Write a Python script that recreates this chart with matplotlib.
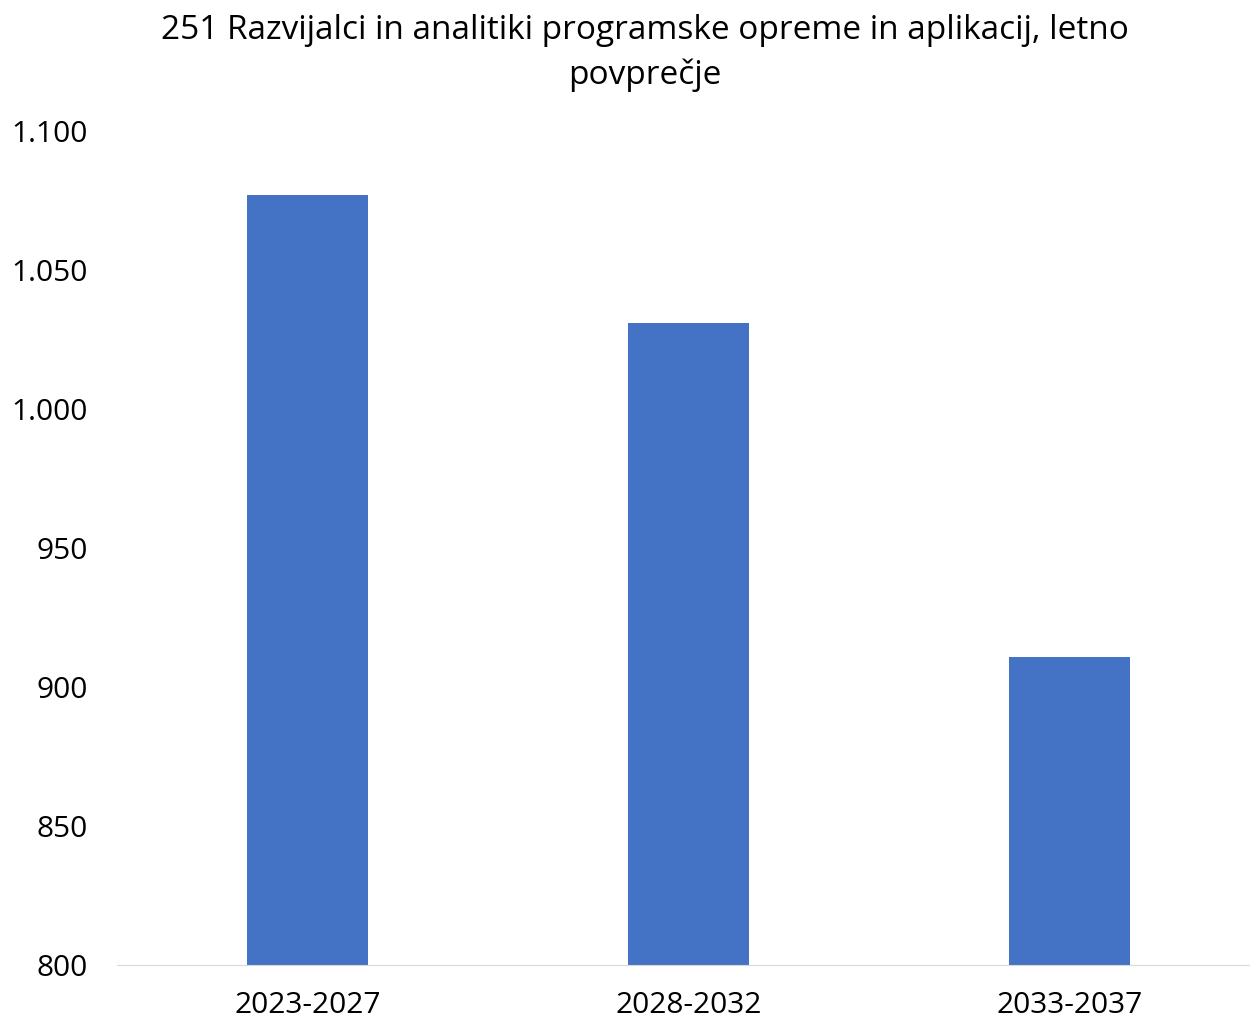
import matplotlib.pyplot as plt
import numpy as np

plt.rcParams['font.family'] = ['Open Sans', 'DejaVu Sans']

periods = ['2023-2027', '2028-2032', '2033-2037']
values = [1077, 1031, 911]
yticks = [800, 850, 900, 950, 1000, 1050, 1100]
ytick_labels = ['800', '850', '900', '950', '1.000', '1.050', '1.100']

fig = plt.figure(figsize=(12.5, 10.23), dpi=100)
ax = fig.add_axes([0.0936, 0.0567, 0.9064, 0.815])

x = np.arange(len(periods))
ax.bar(x, values, width=0.315, color='#4472C4', zorder=2)

ax.set_xlim(-0.5, 2.5 - 10 / 381)
ax.set_ylim(800, 1100)
ax.set_xticks(x)
ax.set_xticklabels(periods, fontsize=21.5)
ax.set_yticks(yticks)
ax.set_yticklabels(ytick_labels, fontsize=21.5)
ax.tick_params(axis='y', length=0, pad=21)
ax.tick_params(axis='x', length=0, pad=19)

for s in ['top', 'right', 'left']:
    ax.spines[s].set_visible(False)
ax.spines['bottom'].set_color('#d9d9d9')

fig.text(0.516, 0.986, '251 Razvijalci in analitiki programske opreme in aplikacij, letno\npovprečje',
         ha='center', va='top', fontsize=24, linespacing=1.45)

fig.savefig('out.png', dpi=100)
